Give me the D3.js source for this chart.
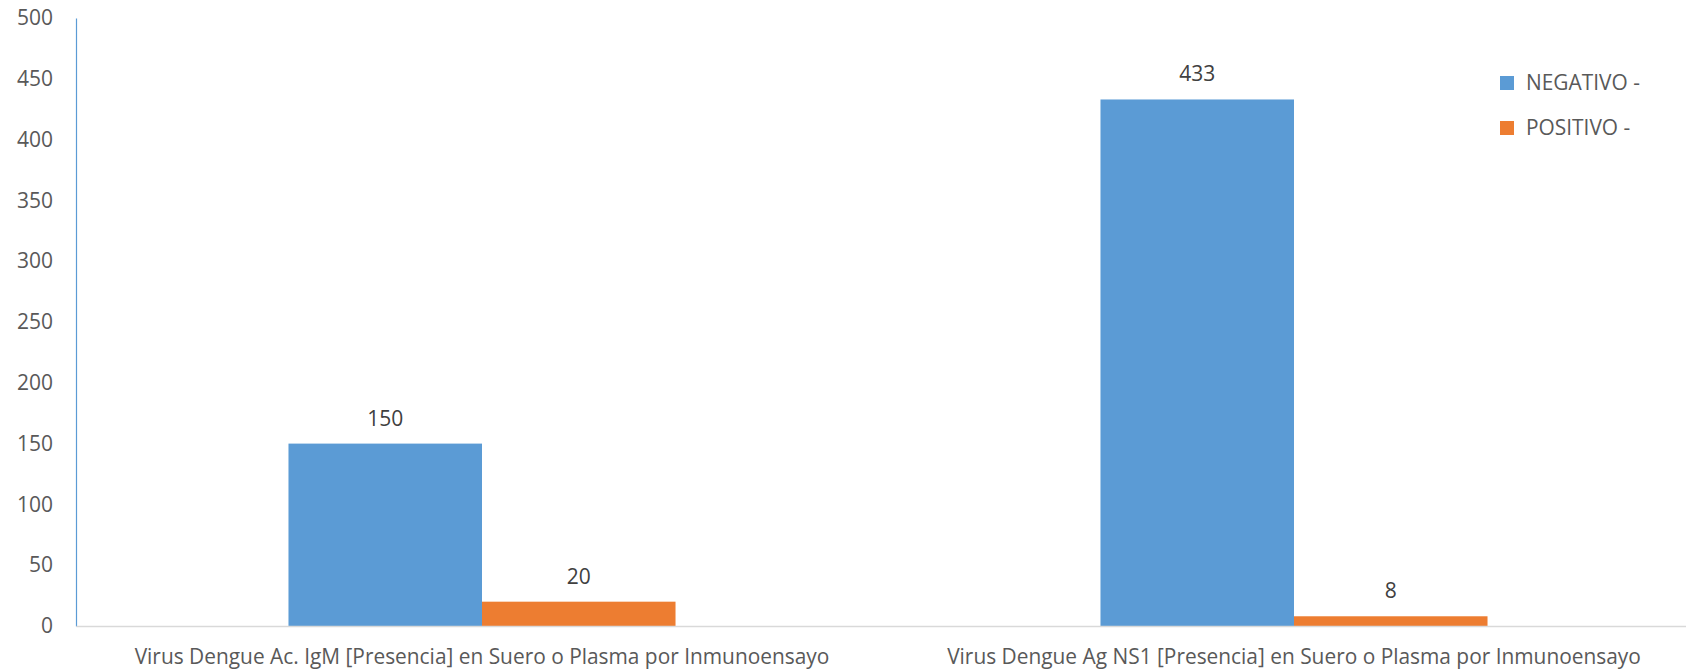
<!DOCTYPE html>
<html>
<head>
<meta charset="utf-8">
<script src="https://cdn.jsdelivr.net/npm/d3@7"></script>
<style>
  html, body { margin: 0; padding: 0; background: #ffffff; }
  svg { display: block; font-family: "Open Sans", sans-serif; }
</style>
</head>
<body>
<svg id="chart" width="1686" height="669"></svg>
<script>
const categories = [
  "Virus Dengue Ac. IgM [Presencia] en Suero o Plasma por Inmunoensayo",
  "Virus Dengue Ag NS1 [Presencia] en Suero o Plasma por Inmunoensayo"
];
const seriesNames = ["NEGATIVO -", "POSITIVO -"];
const negativo = [150, 433];
const positivo = [20, 8];
const yTicks = [0, 50, 100, 150, 200, 250, 300, 350, 400, 450, 500];
const colors = ["#5B9BD5", "#ED7D31"];

const seriesValues = [negativo, positivo];
const data = categories.map((c, i) => ({
  category: c,
  values: seriesNames.map((s, j) => ({ series: s, value: seriesValues[j][i], color: colors[j] }))
}));

const svg = d3.select("#chart");
const mLeft = 76, mRight = 1700, mTop = 18, mBottom = 626;

// font size calibration for the long category labels
const probe = svg.append("text").attr("font-size", 24).text(categories[0]);
const k = 695 / probe.node().getComputedTextLength();
probe.remove();
const fs = 24 * k;
const fsNum = 21;

const x0 = d3.scaleBand().domain(categories).range([mLeft, mRight]).paddingInner(0).paddingOuter(0);
const x1 = d3.scaleBand().domain(seriesNames).range([0, x0.bandwidth()]).paddingInner(0).paddingOuter(1.098);
const y = d3.scaleLinear().domain([0, 500]).range([mBottom, mTop]);

// y axis
const yAxis = svg.append("g")
  .attr("transform", `translate(${mLeft},0)`)
  .call(d3.axisLeft(y).tickValues(yTicks).tickSize(0).tickPadding(23).tickFormat(d3.format("d")));
yAxis.select(".domain").attr("stroke", "#5B9BD5").attr("stroke-width", 1.2);
yAxis.selectAll("text").attr("font-size", fsNum).attr("fill", "#595959").attr("font-family", "Open Sans, sans-serif");

// bars
const groups = svg.append("g").selectAll("g").data(data).join("g")
  .attr("transform", d => `translate(${x0(d.category)},0)`);
groups.selectAll("rect").data(d => d.values).join("rect")
  .attr("x", d => x1(d.series))
  .attr("width", x1.bandwidth())
  .attr("y", d => y(d.value))
  .attr("height", d => y(0) - y(d.value))
  .attr("fill", d => d.color);
groups.selectAll("text.lbl").data(d => d.values).join("text")
  .attr("class", "lbl")
  .attr("x", d => x1(d.series) + x1.bandwidth() / 2)
  .attr("y", d => y(d.value) - 18)
  .attr("text-anchor", "middle")
  .attr("font-size", fsNum)
  .attr("fill", "#404040")
  .text(d => d.value);

// x axis
const xAxis = svg.append("g")
  .attr("transform", `translate(0,${mBottom})`)
  .call(d3.axisBottom(x0).tickSize(0).tickPadding(38).tickSizeOuter(0));
xAxis.select(".domain").attr("stroke", "#D9D9D9").attr("stroke-width", 1.5);
xAxis.selectAll("text").attr("font-size", fs).attr("fill", "#595959")
  .attr("font-family", "Open Sans, sans-serif").attr("dy", "0").attr("y", 38);

// legend
const legend = svg.append("g").selectAll("g").data(seriesNames).join("g")
  .attr("transform", (d, i) => `translate(1500,${76 + i * 45})`);
legend.append("rect").attr("width", 14).attr("height", 14).attr("fill", (d, i) => colors[i]);
legend.append("text").attr("x", 26).attr("y", 7).attr("dy", "0.35em")
  .attr("font-size", fs).attr("fill", "#595959").text(d => d);
</script>
</body>
</html>
